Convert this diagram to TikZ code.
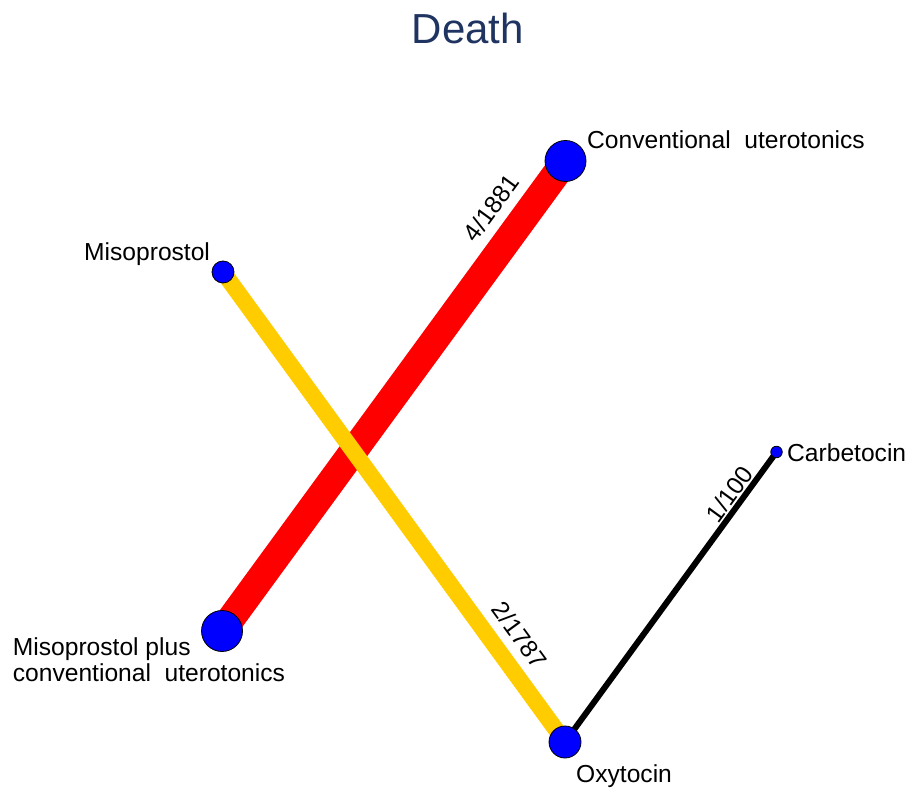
\documentclass[tikz,border=0pt]{standalone}
\usepackage{fontspec}
\setmainfont{Liberation Sans}
\usetikzlibrary{backgrounds}
\definecolor{titleblue}{RGB}{31,52,97}
\definecolor{edgered}{RGB}{255,0,0}
\definecolor{edgeyellow}{RGB}{255,204,0}
\begin{document}
\begin{tikzpicture}[x=1pt,y=1pt,
  trt/.style={circle, draw=black, line width=0.8pt, fill=blue, inner sep=0pt, minimum size=#1},
  tlabel/.style={anchor=base west, inner sep=0pt, font=\fontsize{24.6}{29}\selectfont},
  edgelbl/.style={inner sep=0pt, font=\fontsize{24.6}{29}\selectfont},
]
\useasboundingbox (0,0) rectangle (909,787);

% title
\node[anchor=base, inner sep=0pt, text=titleblue, font=\fontsize{42}{50}\selectfont] (title) at (468,743.7) {Death};

% treatments
\node[trt=41pt] (cu) at (565.5,626) {};
\node[trt=22pt] (mi) at (223,515) {};
\node[trt=11.5pt] (ca) at (776.5,335) {};
\node[trt=41pt] (mp) at (222,156) {};
\node[trt=32pt] (ox) at (565,45) {};

% treatment names
\node[tlabel] (cuname) at (587,638) {Conventional~~uterotonics};
\node[tlabel] (miname) at (84,526) {Misoprostol};
\node[tlabel] (caname) at (787,325) {Carbetocin};
\node[tlabel] (mpname1) at (12.7,132) {Misoprostol plus};
\node[tlabel] (mpname2) at (12.7,105.3) {conventional~~uterotonics};
\node[tlabel] (oxname) at (576,4.3) {Oxytocin};

% comparisons
\begin{scope}[on background layer]
  \fill[white] (0,0) rectangle (909,787);
  \draw[edgered, line width=28pt] (mp.center) -- (cu.center);
  \draw[edgeyellow, line width=16.5pt] (mi.center) -- (ox.center);
  \draw[black, line width=6pt] (ox.center) -- (ca.center);
\end{scope}

% events / participants
\node[edgelbl, rotate=53.9] (l1) at (491,579) {4/1881};
\node[edgelbl, rotate=-54] (l2) at (520,152) {2/1787};
\node[edgelbl, rotate=53.9] (l3) at (729.5,293) {1/100};
\end{tikzpicture}
\end{document}
